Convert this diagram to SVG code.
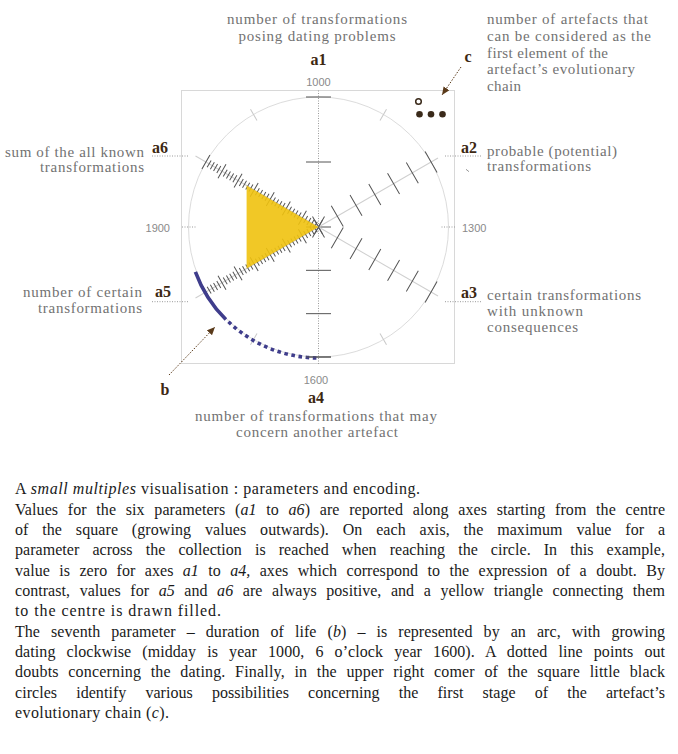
<svg xmlns="http://www.w3.org/2000/svg" xmlns:xlink="http://www.w3.org/1999/xlink" width="678" height="754" viewBox="0 0 678 754">
<style>
.lbl{font-family:"Liberation Serif",serif;font-size:15px;fill:#727272}
.key{font-family:"Liberation Serif",serif;font-size:16px;font-weight:bold;fill:#3d2812}
.yr{font-family:"Liberation Sans",sans-serif;font-size:11px;fill:#8a8a8a}
.body{font-family:"Liberation Serif",serif;font-size:16px;fill:#1a1a1a}
.it{font-style:italic}
.axis{stroke:#cfcfcf;stroke-width:1;fill:none}
.tick{stroke:#555;stroke-width:1;fill:none}
.hour{stroke:#c8c8c8;stroke-width:1;fill:none}
.dotg{stroke:#9a9a9a;stroke-width:1;stroke-dasharray:1 1.5;fill:none}
.arrow{stroke:#5a3a1a;stroke-width:1;stroke-dasharray:1.5 1.5;fill:none}
.life{stroke:#3f3d8c;stroke-width:3.6;fill:none}
</style>
<defs>
<marker id="ah" markerUnits="userSpaceOnUse" markerWidth="9" markerHeight="8" refX="8" refY="3.5" orient="auto">
<path d="M0,0 L8,3.5 L0,7 Z" fill="#5a3a1a"/>
</marker>
<g id="sparse">
<line class="axis" x1="0" y1="0" x2="138" y2="0"/>
<path class="tick" d="M0,-12V12M21.67,-12V12M43.33,-12V12M65,-12V12M86.67,-12V12M108.33,-12V12M130,-12V12"/>
</g>
<g id="dense">
<line class="axis" x1="0" y1="0" x2="142" y2="0"/>
<path class="tick" stroke-width="0.9" d="M3.71,-4V4M7.43,-4V4M11.14,-4V4M14.86,-4V4M22.29,-4V4M26,-4V4M29.71,-4V4M33.43,-4V4M40.86,-4V4M44.57,-4V4M48.29,-4V4M52,-4V4M59.43,-4V4M63.14,-4V4M66.86,-4V4M70.57,-4V4M78,-4V4M81.71,-4V4M85.43,-4V4M89.14,-4V4M96.57,-4V4M100.29,-4V4M104,-4V4M107.71,-4V4M115.14,-4V4M118.86,-4V4M122.57,-4V4M126.29,-4V4"/>
<path class="tick" d="M0,-8V8M18.57,-8V8M37.14,-8V8M55.71,-8V8M74.29,-8V8M92.86,-8V8M111.43,-8V8M130,-8V8"/>
</g>
</defs>
<rect width="678" height="754" fill="#ffffff"/>

<g id="chart">
<rect x="181.5" y="90.5" width="273" height="273" fill="none" stroke="#d8d8d8" stroke-width="1"/>
<circle cx="318.5" cy="227" r="130" fill="none" stroke="#dcdcdc" stroke-width="1"/>
<line class="dotg" x1="318.5" y1="90.5" x2="318.5" y2="364"/>
<g transform="translate(318.5,227)">
<line class="dotg" x1="123" y1="0" x2="137" y2="0"/>
<line class="dotg" x1="-123" y1="0" x2="-137" y2="0"/>
<line class="hour" x1="123" y1="0" x2="136" y2="0" transform="rotate(-60)"/>
<line class="hour" x1="123" y1="0" x2="136" y2="0" transform="rotate(-120)"/>
<line class="hour" x1="123" y1="0" x2="136" y2="0" transform="rotate(60)"/>
<line class="hour" x1="123" y1="0" x2="136" y2="0" transform="rotate(120)"/>
<path class="tick" d="M-12.5,-130H12.5M-12.5,-65H12.5M-12.5,0H12.5M-12.5,43.33H12.5M-12.5,86.67H12.5M-12.5,130H12.5"/>
<use xlink:href="#sparse" href="#sparse" transform="rotate(-30)"/>
<use xlink:href="#sparse" href="#sparse" transform="rotate(30)"/>
<use xlink:href="#dense" href="#dense" transform="rotate(150)"/>
<use xlink:href="#dense" href="#dense" transform="rotate(210)"/>
</g>
<polygon points="318.5,227 246.6,185.5 246.6,268.5" fill="#f0c20e" fill-opacity="0.9"/>
<path class="life" d="M195.4,271.8 A131,131 0 0 0 225.9,319.6"/>
<path class="life" stroke-dasharray="3.6 3.6" d="M228.5,321.8 A131,131 0 0 0 318.5,358"/>
<line x1="306" y1="357" x2="331" y2="357" class="tick"/>
<circle cx="418.5" cy="101.5" r="2.8" fill="#ffffff" stroke="#3a2a1a" stroke-width="1.5"/>
<circle cx="419.5" cy="114.2" r="3.3" fill="#3a2a1a"/>
<circle cx="431" cy="114.2" r="3.3" fill="#3a2a1a"/>
<circle cx="442.5" cy="114.2" r="3.3" fill="#3a2a1a"/>
<text class="yr" x="318.5" y="86" text-anchor="middle">1000</text>
<text class="yr" x="462" y="232">1300</text>
<text class="yr" x="316" y="384" text-anchor="middle">1600</text>
<text class="yr" x="170" y="232" text-anchor="end">1900</text>
<line x1="466" y1="169.3" x2="469" y2="171.7" stroke="#9a9a9a" stroke-width="1"/>
</g>

<g id="connectors">
<line class="dotg" x1="152" y1="156" x2="188" y2="156"/>
<line class="dotg" x1="152" y1="301.7" x2="188" y2="301.7"/>
<line class="dotg" x1="445" y1="156" x2="481" y2="156"/>
<line class="dotg" x1="445" y1="301.7" x2="481" y2="301.7"/>
<line class="arrow" x1="461" y1="67" x2="442" y2="95" marker-end="url(#ah)"/>
<line class="arrow" x1="169" y1="375" x2="215" y2="327" marker-end="url(#ah)"/>
</g>

<g id="a1">
<text class="lbl" x="317" y="24" text-anchor="middle" textLength="180" lengthAdjust="spacing">number of transformations</text>
<text class="lbl" x="317" y="41" text-anchor="middle" textLength="157" lengthAdjust="spacing">posing dating problems</text>
<text class="key" x="318.5" y="65" text-anchor="middle">a1</text>
</g>
<g id="c">
<text class="lbl" x="487" y="24" textLength="161" lengthAdjust="spacing">number of artefacts that</text>
<text class="lbl" x="487" y="41" textLength="164" lengthAdjust="spacing">can be considered as the</text>
<text class="lbl" x="487" y="58" textLength="121" lengthAdjust="spacing">first element of the</text>
<text class="lbl" x="487" y="74" textLength="148" lengthAdjust="spacing">artefact’s evolutionary</text>
<text class="lbl" x="487" y="91" textLength="34" lengthAdjust="spacing">chain</text>
<text class="key" x="468" y="62" text-anchor="middle">c</text>
</g>
<g id="a6">
<text class="lbl" x="144" y="157" text-anchor="end" textLength="139" lengthAdjust="spacing">sum of the all known</text>
<text class="lbl" x="144" y="172" text-anchor="end" textLength="104" lengthAdjust="spacing">transformations</text>
<text class="key" x="152" y="153">a6</text>
</g>
<g id="a5">
<text class="lbl" x="142" y="297" text-anchor="end" textLength="119" lengthAdjust="spacing">number of certain</text>
<text class="lbl" x="142" y="313" text-anchor="end" textLength="104" lengthAdjust="spacing">transformations</text>
<text class="key" x="155" y="297">a5</text>
</g>
<g id="a2">
<text class="key" x="461" y="153">a2</text>
<text class="lbl" x="487" y="156" textLength="130" lengthAdjust="spacing">probable (potential)</text>
<text class="lbl" x="487" y="171" textLength="104" lengthAdjust="spacing">transformations</text>
</g>
<g id="a3">
<text class="key" x="461" y="298">a3</text>
<text class="lbl" x="487" y="300" textLength="154" lengthAdjust="spacing">certain transformations</text>
<text class="lbl" x="487" y="316" textLength="96" lengthAdjust="spacing">with unknown</text>
<text class="lbl" x="487" y="332" textLength="91" lengthAdjust="spacing">consequences</text>
</g>
<g id="a4">
<text class="key" x="316" y="403" text-anchor="middle">a4</text>
<text class="lbl" x="316" y="421" text-anchor="middle" textLength="242" lengthAdjust="spacing">number of transformations that may</text>
<text class="lbl" x="317" y="437" text-anchor="middle" textLength="162" lengthAdjust="spacing">concern another artefact</text>
</g>
<g id="b">
<text class="key" x="165" y="395" text-anchor="middle">b</text>
</g>

<g id="caption">
<text class="body" x="15" y="494" textLength="405" lengthAdjust="spacing">A <tspan class="it">small multiples</tspan> visualisation : parameters and encoding.</text>
<text class="body" x="15" y="514.5" style="word-spacing:5.6px" textLength="650" lengthAdjust="spacing">Values for the six parameters (<tspan class="it">a1</tspan> to <tspan class="it">a6</tspan>) are reported along axes starting from the centre</text>
<text class="body" x="15" y="535" style="word-spacing:9.7px" textLength="650" lengthAdjust="spacing">of the square (growing values outwards). On each axis, the maximum value for a</text>
<text class="body" x="15" y="555" style="word-spacing:9px" textLength="650" lengthAdjust="spacing">parameter across the collection is reached when  reaching the circle. In this example,</text>
<text class="body" x="15" y="575.5" style="word-spacing:5.3px" textLength="650" lengthAdjust="spacing">value is zero for axes <tspan class="it">a1</tspan> to <tspan class="it">a4,</tspan> axes which correspond to the expression of a doubt. By</text>
<text class="body" x="15" y="596" style="word-spacing:5.5px" textLength="650" lengthAdjust="spacing">contrast, values for  <tspan class="it">a5</tspan> and <tspan class="it">a6</tspan> are always positive, and a yellow triangle connecting them</text>
<text class="body" x="15" y="616" textLength="206" lengthAdjust="spacing">to the centre is drawn filled.</text>
<text class="body" x="15" y="636.5" style="word-spacing:7px" textLength="650" lengthAdjust="spacing">The seventh parameter – duration of life (<tspan class="it">b</tspan>) – is represented by an arc, with  growing</text>
<text class="body" x="15" y="657" style="word-spacing:7px" textLength="650" lengthAdjust="spacing">dating clockwise (midday  is year 1000, 6 o’clock year 1600). A dotted line points out</text>
<text class="body" x="15" y="677" style="word-spacing:5.4px" textLength="650" lengthAdjust="spacing">doubts concerning the dating. Finally, in the upper right comer of the square little black</text>
<text class="body" x="15" y="697.5" style="word-spacing:15px" textLength="650" lengthAdjust="spacing">circles identify various possibilities concerning the first stage of the artefact’s</text>
<text class="body" x="15" y="718" textLength="154" lengthAdjust="spacing">evolutionary chain (<tspan class="it">c</tspan>).</text>
</g>
</svg>
